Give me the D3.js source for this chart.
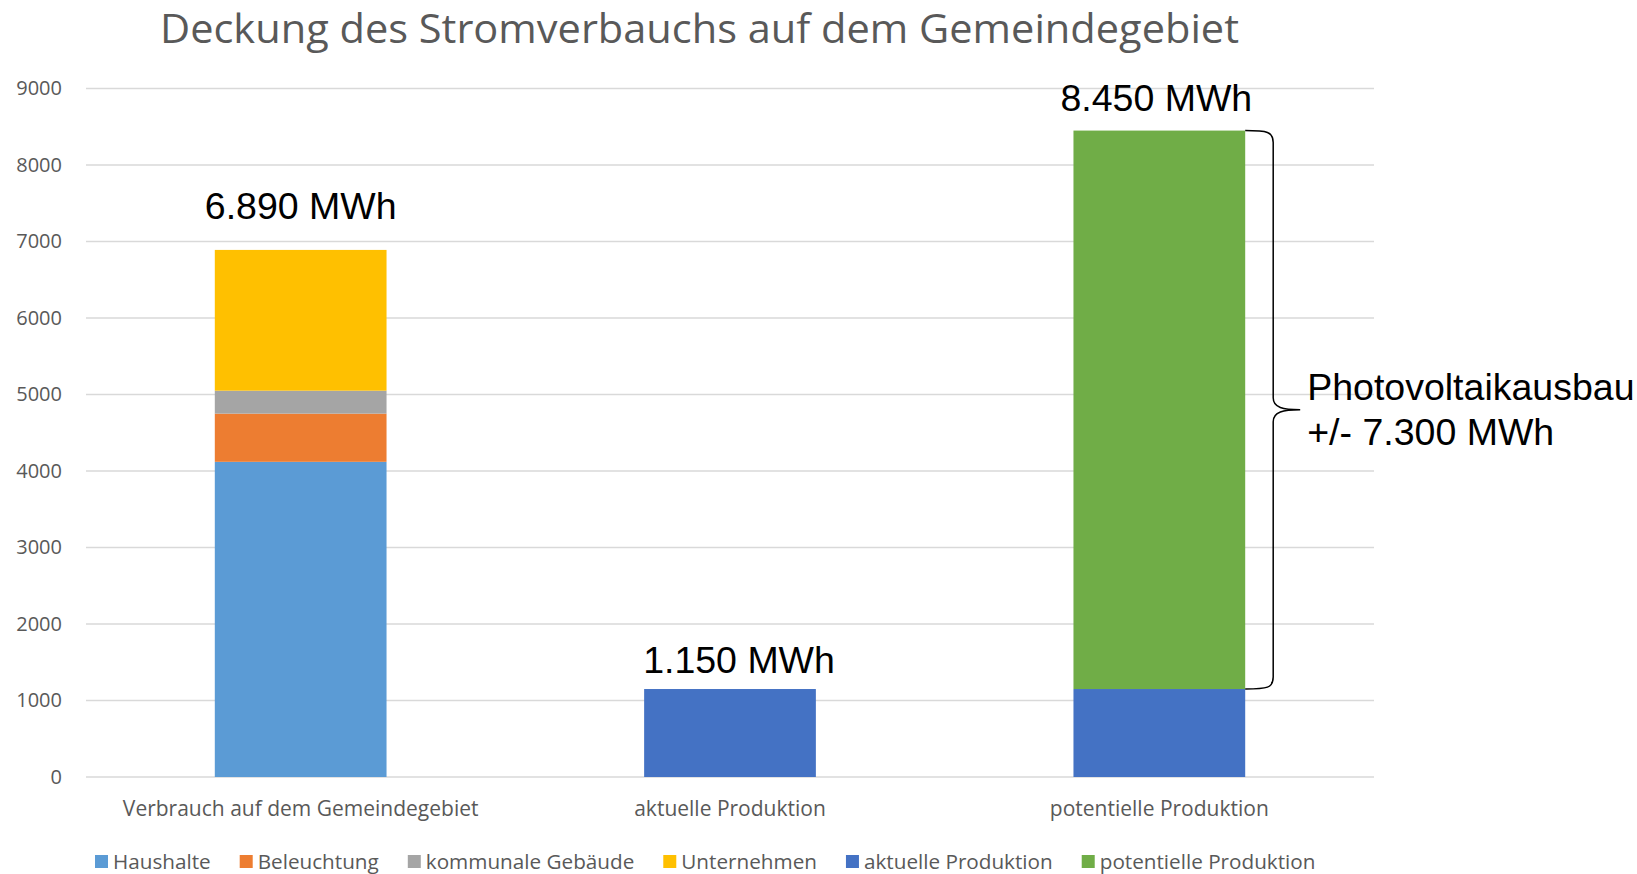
<!DOCTYPE html>
<html>
<head>
<meta charset="utf-8">
<script src="https://cdn.jsdelivr.net/npm/d3@7"></script>
<style>
  body { margin: 0; background: #fff; }
  svg { display: block; }
</style>
</head>
<body>
<svg id="chart"></svg>
<script>
// data (MWh)
const categories = ["Verbrauch auf dem Gemeindegebiet", "aktuelle Produktion", "potentielle Produktion"];
const seriesNames = ["Haushalte", "Beleuchtung", "kommunale Gebäude", "Unternehmen", "aktuelle Produktion", "potentielle Produktion"];
const haushalte = [4120, 0, 0];
const beleuchtung = [630, 0, 0];
const kommunaleGebaeude = [300, 0, 0];
const unternehmen = [1840, 0, 0];
const aktuelleProduktion = [0, 1150, 1150];
const potentielleProduktion = [0, 0, 7300];
const totalLabels = ["6.890 MWh", "1.150 MWh", "8.450 MWh"];
const yTicks = [0, 1000, 2000, 3000, 4000, 5000, 6000, 7000, 8000, 9000];
const bracketLines = ["Photovoltaikausbau", "+/- 7.300 MWh"];
const titleText = "Deckung des Stromverbauchs auf dem Gemeindegebiet";

const colors = ["#5b9bd5", "#ed7d31", "#a5a5a5", "#ffc000", "#4472c4", "#70ad47"];

const width = 1637, height = 874;
const margin = { left: 86, right: 263, top: 88.5, bottom: 97 };

const svg = d3.select("#chart").attr("width", width).attr("height", height);

const seriesValues = [haushalte, beleuchtung, kommunaleGebaeude, unternehmen, aktuelleProduktion, potentielleProduktion];
const rows = categories.map((c, i) => {
  const r = { cat: c };
  seriesNames.forEach((s, k) => { r[s] = seriesValues[k][i]; });
  return r;
});
const stacked = d3.stack().keys(seriesNames)(rows);

const x = d3.scaleBand()
  .domain(categories)
  .range([margin.left, width - margin.right])
  .paddingInner(0.6)
  .paddingOuter(0.3);

const y = d3.scaleLinear()
  .domain([0, 9000])
  .range([height - margin.bottom, margin.top]);

const font = "'Open Sans', 'Noto Sans', sans-serif";
const labelFont = "'Liberation Sans', Arial, sans-serif";

// gridlines
svg.append("g")
  .selectAll("line")
  .data(yTicks)
  .join("line")
  .attr("x1", margin.left)
  .attr("x2", width - margin.right)
  .attr("y1", d => y(d))
  .attr("y2", d => y(d))
  .attr("stroke", "#d9d9d9")
  .attr("stroke-width", 1.5);

// y axis labels
const yAxis = svg.append("g")
  .attr("transform", `translate(${margin.left - 6},0)`)
  .call(d3.axisLeft(y).tickValues(yTicks).tickSize(0).tickPadding(18).tickFormat(d3.format("d")));
yAxis.select(".domain").remove();
yAxis.selectAll("text")
  .attr("font-family", font)
  .attr("font-size", 20)
  .attr("fill", "#595959");

// bars
svg.append("g")
  .selectAll("g")
  .data(stacked)
  .join("g")
  .attr("fill", (d, i) => colors[i])
  .selectAll("rect")
  .data(d => d)
  .join("rect")
  .attr("x", d => x(d.data.cat))
  .attr("width", x.bandwidth())
  .attr("y", d => y(d[1]))
  .attr("height", d => y(d[0]) - y(d[1]));

// category labels
svg.append("g")
  .selectAll("text")
  .data(categories)
  .join("text")
  .attr("x", d => x(d) + x.bandwidth() / 2)
  .attr("y", height - margin.bottom + 39)
  .attr("text-anchor", "middle")
  .attr("font-family", font)
  .attr("font-size", 21)
  .attr("fill", "#595959")
  .text(d => d);

// total labels (hand placed text boxes in the original)
const totals = categories.map((c, i) => d3.sum(seriesValues, s => s[i]));
const labelNudge = [[0, -31], [9, -16], [-3, -20]];
svg.append("g")
  .selectAll("text")
  .data(totalLabels)
  .join("text")
  .attr("x", (d, i) => x(categories[i]) + x.bandwidth() / 2 + labelNudge[i][0])
  .attr("y", (d, i) => y(totals[i]) + labelNudge[i][1])
  .attr("text-anchor", "middle")
  .attr("font-family", labelFont)
  .attr("font-size", 37.5)
  .attr("fill", "#000")
  .text(d => d);

// curly bracket for the photovoltaic expansion
const x0 = x(categories[2]) + x.bandwidth();
const xv = x0 + 28, xt = x0 + 55;
const yTop = y(totals[2]), yBot = y(aktuelleProduktion[2]);
const yMid = (yTop + yBot) / 2;
const brace = d3.path();
brace.moveTo(x0, yTop);
brace.bezierCurveTo(x0 + 22, yTop, xv, yTop + 1, xv, yTop + 12);
brace.lineTo(xv, yMid - 12);
brace.bezierCurveTo(xv, yMid - 2, xv + 10, yMid, xt, yMid);
brace.moveTo(xt, yMid);
brace.bezierCurveTo(xv + 10, yMid, xv, yMid + 2, xv, yMid + 12);
brace.lineTo(xv, yBot - 12);
brace.bezierCurveTo(xv, yBot - 1, x0 + 22, yBot, x0, yBot);
svg.append("path")
  .attr("d", brace.toString())
  .attr("fill", "none")
  .attr("stroke", "#000")
  .attr("stroke-width", 1.5);

svg.append("g")
  .selectAll("text")
  .data(bracketLines)
  .join("text")
  .attr("x", xt + 7)
  .attr("y", (d, i) => yMid - 10 + i * 45)
  .attr("font-family", labelFont)
  .attr("font-size", 37.5)
  .attr("fill", "#000")
  .text(d => d);

// title
svg.append("text")
  .attr("x", 160)
  .attr("y", 43)
  .attr("textLength", 1079)
  .attr("lengthAdjust", "spacingAndGlyphs")
  .attr("font-family", font)
  .attr("font-size", 40)
  .attr("fill", "#595959")
  .text(titleText);

// legend
const legend = svg.append("g").attr("transform", `translate(95, ${height - 5})`);
let lx = 0;
seriesNames.forEach((name, i) => {
  const item = legend.append("g").attr("transform", `translate(${lx},0)`);
  item.append("rect")
    .attr("x", 0)
    .attr("y", -14)
    .attr("width", 13)
    .attr("height", 13)
    .attr("fill", colors[i]);
  const t = item.append("text")
    .attr("x", 18)
    .attr("y", 0)
    .attr("font-family", font)
    .attr("font-size", 20.7)
    .attr("fill", "#595959")
    .text(name);
  lx += 18 + t.node().getComputedTextLength() + 29;
});
</script>
</body>
</html>
